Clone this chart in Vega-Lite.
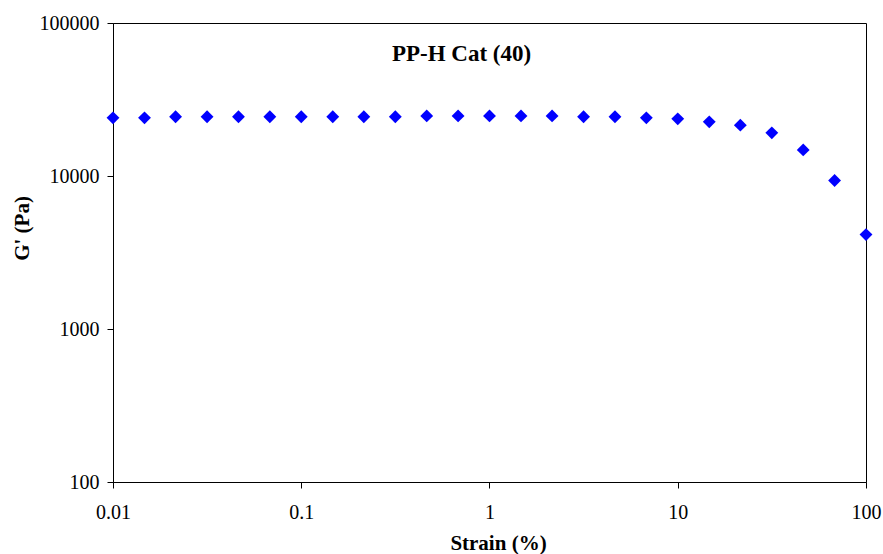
{
  "$schema": "https://vega.github.io/schema/vega-lite/v6.json",
  "width": 753,
  "height": 459,
  "autosize": "none",
  "padding": {"left": 113, "top": 23, "right": 17, "bottom": 72},
  "background": "white",
  "title": {
    "text": "PP-H Cat (40)",
    "font": "Liberation Serif",
    "fontSize": 23,
    "fontWeight": "bold",
    "color": "#000000",
    "anchor": "middle",
    "frame": "group",
    "baseline": "alphabetic",
    "offset": -71,
    "dx": -28
  },
  "config": {
    "view": {"stroke": "#000000", "strokeWidth": 1},
    "axis": {
      "labelFont": "Liberation Serif",
      "labelFontSize": 20,
      "labelColor": "#000000",
      "titleFont": "Liberation Serif",
      "titleFontSize": 21,
      "titleFontWeight": "bold",
      "titleColor": "#000000",
      "domainColor": "#000000",
      "tickColor": "#000000",
      "grid": false,
      "tickSize": 6,
      "labelFlush": false
    }
  },
  "data": {
    "values": [
      {"strain": 0.01, "G": 24000},
      {"strain": 0.0147, "G": 24000},
      {"strain": 0.0215, "G": 24400},
      {"strain": 0.0316, "G": 24400},
      {"strain": 0.0464, "G": 24400},
      {"strain": 0.0681, "G": 24400},
      {"strain": 0.1, "G": 24400},
      {"strain": 0.147, "G": 24400},
      {"strain": 0.215, "G": 24400},
      {"strain": 0.316, "G": 24400},
      {"strain": 0.464, "G": 24700},
      {"strain": 0.681, "G": 24700},
      {"strain": 1, "G": 24700},
      {"strain": 1.47, "G": 24700},
      {"strain": 2.15, "G": 24700},
      {"strain": 3.16, "G": 24400},
      {"strain": 4.64, "G": 24400},
      {"strain": 6.81, "G": 24000},
      {"strain": 10, "G": 23650},
      {"strain": 14.7, "G": 22600},
      {"strain": 21.5, "G": 21500},
      {"strain": 31.6, "G": 19150},
      {"strain": 46.4, "G": 14800},
      {"strain": 68.1, "G": 9350},
      {"strain": 100, "G": 4140}
    ]
  },
  "mark": {"type": "point", "shape": "diamond", "filled": true, "color": "#0000FF", "size": 165, "opacity": 1},
  "encoding": {
    "x": {
      "field": "strain",
      "type": "quantitative",
      "scale": {"type": "log", "domain": [0.01, 100], "nice": false},
      "axis": {
        "title": "Strain (%)",
        "values": [0.01, 0.1, 1, 10, 100],
        "format": "~g",
        "labelPadding": 14,
        "titleX": 385,
        "titleY": 67,
        "titleBaseline": "alphabetic"
      }
    },
    "y": {
      "field": "G",
      "type": "quantitative",
      "scale": {"type": "log", "domain": [100, 100000], "nice": false},
      "axis": {
        "title": "G' (Pa)",
        "values": [100, 1000, 10000, 100000],
        "format": "d",
        "labelPadding": 8,
        "titleX": -91,
        "titleY": 205,
        "titleAngle": -90,
        "titleBaseline": "middle"
      }
    }
  }
}
